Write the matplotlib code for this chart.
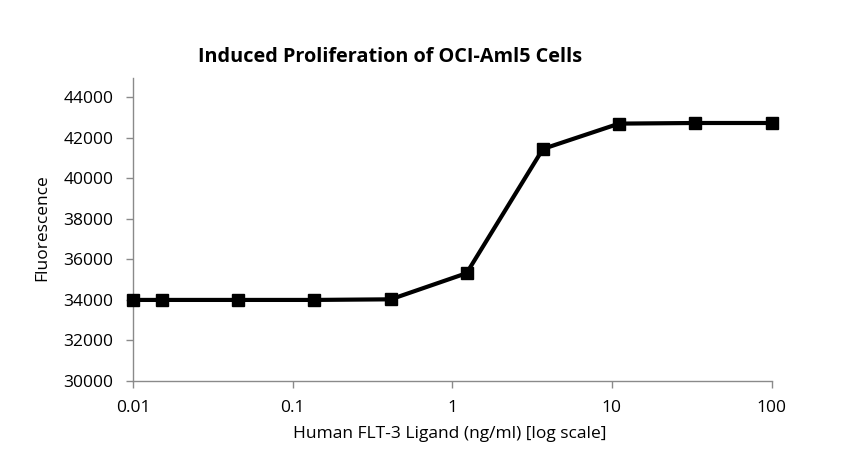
import matplotlib
matplotlib.use("Agg")
import matplotlib.pyplot as plt
from matplotlib.ticker import FixedLocator, NullLocator, FixedFormatter

conc = [0.01, 0.0152, 0.0457, 0.137, 0.412, 1.23, 3.70, 11.1, 33.3, 100]
fluor = [34000, 34000, 34000, 34000, 34030, 35320, 41450, 42700, 42730, 42730]
yticks = [30000, 32000, 34000, 36000, 38000, 40000, 42000, 44000]
xticks = [0.01, 0.1, 1, 10, 100]
xticklabels = ["0.01", "0.1", "1", "10", "100"]

title = "Induced Proliferation of OCI-Aml5 Cells"
xlabel = "Human FLT-3 Ligand (ng/ml) [log scale]"
ylabel = "Fluorescence"

font = "Open Sans"
fig = plt.figure(figsize=(8.54, 4.67), dpi=100)
ax = fig.add_axes([133/854, 1-381/467, (771.5-133)/854, (381-78)/467])

ax.plot(conc, fluor, color="black", lw=3.0, marker="s", ms=8, clip_on=False, zorder=3)
ax.set_xscale("log")
ax.set_xlim(0.01, 100)
ax.set_ylim(30000, 44950)
ax.xaxis.set_major_locator(FixedLocator(xticks))
ax.xaxis.set_major_formatter(FixedFormatter(xticklabels))
ax.xaxis.set_minor_locator(NullLocator())
ax.set_yticks(yticks)
ax.set_yticklabels([str(v) for v in yticks])

for s in ["top", "right"]:
    ax.spines[s].set_visible(False)
for s in ["left", "bottom"]:
    ax.spines[s].set_color("#8a8a8a")
    ax.spines[s].set_linewidth(1.0)
ax.tick_params(axis="both", colors="#8a8a8a", length=5, width=1.0, direction="out",
               labelcolor="black", labelsize=12.5)
ax.tick_params(axis="x", pad=9)
ax.tick_params(axis="y", pad=9)
for lab in ax.get_xticklabels() + ax.get_yticklabels():
    lab.set_fontfamily(font)

fig.text(390/854, 1-57/467, title, ha="center", va="center", fontsize=14.3,
         fontweight="bold", family=font)
fig.text(450/854, 1-434/467, xlabel, ha="center", va="center", fontsize=12.5, family=font)
fig.text(42/854, 1-228/467, ylabel, ha="center", va="center", fontsize=12.5,
         family=font, rotation=90)

fig.savefig("out.png", dpi=100)
